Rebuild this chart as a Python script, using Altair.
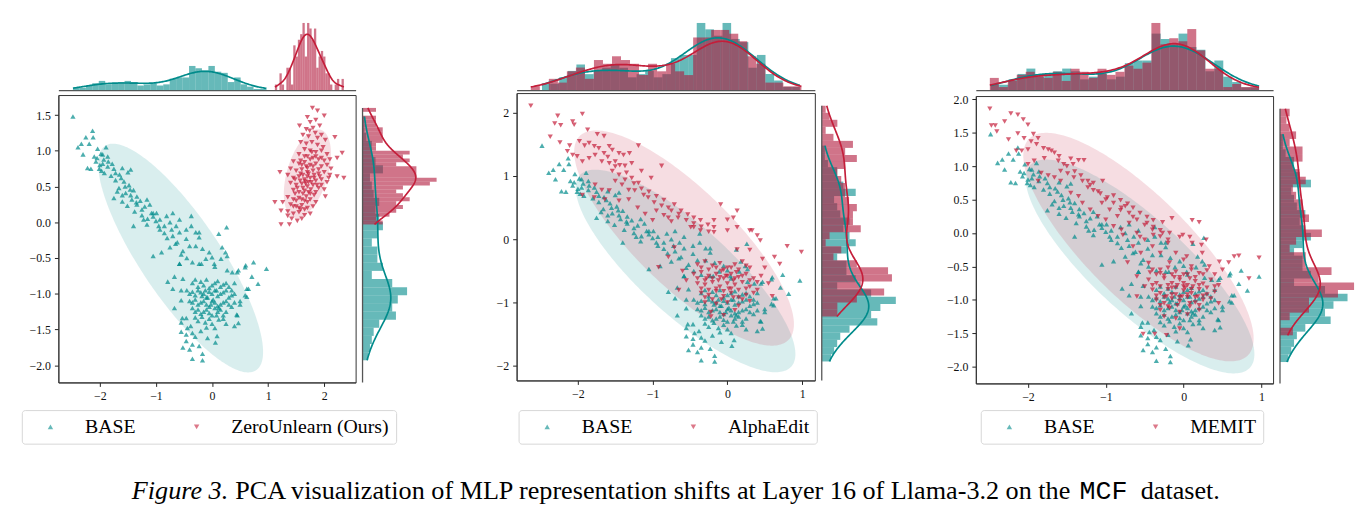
import numpy as np
import pandas as pd
import altair as alt

TEAL = "#008b8b"
RED = "#c41e3a"
HIST_RED = "#b0173a"
SPINE = "#555555"

# BASE representations (same in all three panels)
base_pts = [
    (-2.48, 1.48), (-2.13, 1.28), (-2.25, 1.19), (-2.12, 1.19), (-2.33, 1.10), (-2.39, 1.05), (-2.19, 1.10), (-2.30, 0.95),
    (-2.04, 1.03), (-1.98, 0.96), (-1.89, 1.05), (-1.86, 0.92), (-1.95, 0.82), (-2.07, 0.85), (-2.16, 0.75), (-2.01, 0.75),
    (-1.86, 0.78), (-1.78, 0.82), (-1.72, 0.69), (-1.92, 0.69), (-2.22, 0.76), (-2.05, 0.90), (-1.93, 0.88), (-1.97, 0.72),
    (-1.60, 0.76), (-1.50, 0.70), (-1.45, 0.74), (-1.65, 0.67),
    (-1.72, 0.59), (-1.57, 0.57), (-1.66, 0.48), (-1.54, 0.41), (-1.46, 0.46), (-1.34, 0.36), (-1.69, 0.43), (-1.60, 0.38),
    (-1.48, 0.52), (-1.40, 0.45),
    (-1.75, 0.34), (-1.60, 0.29), (-1.51, 0.23), (-1.43, 0.32), (-1.34, 0.25), (-1.25, 0.18), (-1.16, 0.32), (-1.11, 0.25),
    (-1.08, 0.13), (-1.28, 0.30), (-1.20, 0.22), (-1.38, 0.15),
    (-1.22, 0.04), (-0.99, 0.13), (-0.93, 0.04), (-0.81, 0.09), (-0.75, 0.00), (-0.64, -0.05), (-0.93, -0.10), (-1.40, -0.05),
    (-1.05, 0.13), (-0.70, 0.13), (-0.58, 0.04), (-0.37, 0.09), (-0.46, -0.10), (-0.23, -0.14), (0.26, -0.07), (0.12, -0.16),
    (-1.00, 0.02), (-0.85, -0.05),
    (-1.16, -0.03), (-0.72, -0.10), (-0.70, -0.19), (-0.58, -0.14), (-0.46, -0.23), (-0.37, -0.05), (-0.29, -0.14),
    (-0.23, -0.21), (-0.40, -0.33), (-0.29, -0.33), (-0.17, -0.37), (-0.05, -0.42), (-0.62, -0.28), (-0.52, -0.40), (-0.80, -0.22),
    (-1.05, -0.47), (-0.90, -0.42), (-0.58, -0.58), (-0.35, -0.56), (-0.23, -0.58), (-0.11, -0.51), (0.00, -0.49), (0.24, -0.42),
    (0.27, -0.47), (0.18, -0.35), (-0.45, -0.50), (0.05, -0.62),
    (0.59, -0.63), (0.74, -0.56), (0.97, -0.65), (0.71, -0.76), (0.82, -0.86), (0.62, -0.93), (0.59, -1.02), (0.45, -0.70),
    (0.40, -0.85), (0.50, -1.15), (0.45, -1.30), (0.40, -1.45),
    (-0.58, -0.58), (-0.19, -0.58), (0.04, -0.58), (0.16, -0.51), (0.27, -0.67), (0.36, -0.70), (0.47, -0.67), (0.60, -0.60),
    (0.65, -0.93), (0.62, -1.04), (0.50, -1.10), (0.44, -1.29), (0.47, -1.41),
    (-0.79, -0.83), (-0.67, -0.76), (-0.52, -0.79), (-0.70, -0.93), (-0.55, -0.95), (-0.67, -1.20), (-0.55, -1.09),
    (-0.46, -1.34), (-0.44, -1.48), (-0.53, -1.34),
    (-0.35, -0.85), (-0.25, -0.90), (-0.15, -0.88), (-0.05, -0.92), (0.05, -0.85), (0.15, -0.90), (0.25, -0.85), (0.35, -0.95),
    (-0.40, -1.00), (-0.30, -1.02), (-0.20, -0.98), (-0.10, -1.05), (0.00, -1.00), (0.10, -1.03), (0.20, -0.98), (0.30, -1.05),
    (0.40, -1.00), (-0.35, -1.12), (-0.25, -1.15), (-0.15, -1.10), (-0.05, -1.18), (0.05, -1.12), (0.15, -1.15), (0.25, -1.10),
    (0.35, -1.18), (-0.30, -1.25), (-0.20, -1.28), (-0.10, -1.22), (0.00, -1.30), (0.10, -1.25), (0.20, -1.30),
    (-0.25, -1.38), (-0.12, -1.40), (0.00, -1.42), (0.12, -1.36), (0.25, -1.42),
    (-0.08, -1.05), (0.02, -1.08), (-0.18, -1.03), (0.08, -0.95), (-0.02, -1.15), (0.12, -1.20), (-0.12, -0.95),
    (-0.52, -1.75), (-0.46, -1.66), (-0.40, -1.78), (-0.35, -1.71), (-0.23, -1.73), (-0.17, -1.84), (-0.35, -1.91),
    (-0.17, -1.93), (-0.08, -1.62), (0.06, -1.68), (0.09, -1.59), (-0.46, -1.57), (-0.55, -1.53), (-0.30, -1.60),
    (-0.20, -1.52), (-0.38, -1.45), (-0.55, -1.40),
    (-0.30, -0.80), (-0.20, -0.83), (-0.10, -0.80), (0.00, -0.88), (0.10, -0.82), (0.20, -0.87), (0.30, -0.90),
    (-0.45, -0.95), (-0.35, -0.97), (-0.25, -0.95), (-0.15, -1.00), (-0.05, -0.97), (0.05, -0.95), (0.15, -1.00),
    (0.25, -0.95), (0.35, -1.02), (-0.40, -1.10), (-0.30, -1.08), (-0.20, -1.12), (-0.10, -1.15), (0.00, -1.10),
    (0.10, -1.17), (0.20, -1.12), (0.30, -1.15), (0.40, -1.12), (-0.35, -1.20), (-0.25, -1.22), (-0.15, -1.25),
    (-0.05, -1.27), (0.05, -1.20), (0.15, -1.22), (0.25, -1.25), (-0.30, -1.33), (-0.18, -1.32), (-0.05, -1.35),
    (0.08, -1.30), (0.20, -1.35), (-0.10, -1.47), (0.05, -1.48), (-0.35, -1.55),
    (-1.95, 0.95), (-1.85, 0.85), (-1.75, 0.75), (-1.62, 0.62), (-1.55, 0.50), (-1.45, 0.38), (-1.35, 0.28),
    (-1.25, 0.10), (-1.15, 0.05), (-0.95, -0.05), (-0.85, -0.15), (-0.65, -0.30), (-0.55, -0.45), (-0.75, -0.35),
    (-1.05, 0.08), (-2.10, 0.92), (-2.00, 0.80), (-1.80, 0.65),
]

zero_pts = [
    (1.79, 1.60), (1.88, 1.56), (2.00, 1.49), (1.70, 1.47), (1.56, 1.35), (1.75, 1.40), (1.85, 1.43), (1.92, 1.35),
    (1.68, 1.30), (1.80, 1.32), (1.62, 1.22), (1.72, 1.20), (1.84, 1.25), (1.95, 1.22), (2.02, 1.15), (2.19, 1.19),
    (1.58, 1.12), (1.68, 1.10), (1.78, 1.12), (1.88, 1.08), (1.98, 1.05), (1.65, 1.02), (1.75, 1.00), (1.85, 0.98),
    (1.95, 1.00), (2.05, 0.95), (1.55, 0.95), (1.70, 0.92), (1.80, 0.90), (1.90, 0.88), (2.00, 0.86), (2.32, 0.97),
    (2.23, 0.90), (2.10, 0.88),
    (1.45, 0.85), (1.55, 0.82), (1.65, 0.84), (1.75, 0.80), (1.85, 0.82), (1.95, 0.78), (2.05, 0.80), (2.12, 0.75),
    (1.40, 0.75), (1.50, 0.72), (1.60, 0.74), (1.70, 0.70), (1.80, 0.72), (1.90, 0.68), (2.00, 0.70), (2.10, 0.66),
    (2.23, 0.64), (2.35, 0.62), (1.21, 0.70), (1.35, 0.66), (1.45, 0.62), (1.55, 0.64), (1.65, 0.60), (1.75, 0.62),
    (1.85, 0.58), (1.95, 0.60), (2.05, 0.56), (1.40, 0.55), (1.50, 0.52), (1.60, 0.54), (1.70, 0.50), (1.80, 0.52),
    (1.90, 0.48), (2.00, 0.46), (1.45, 0.45), (1.55, 0.42), (1.65, 0.44), (1.75, 0.40), (1.85, 0.42), (2.02, 0.36),
    (1.62, 0.48), (1.72, 0.56), (1.82, 0.66), (1.68, 0.78), (1.58, 0.68), (1.66, 0.57), (1.76, 0.46), (1.70, 0.64),
    (1.35, 0.35), (1.45, 0.32), (1.55, 0.34), (1.65, 0.30), (1.75, 0.32), (1.85, 0.28), (1.40, 0.25), (1.50, 0.22),
    (1.60, 0.24), (1.70, 0.20), (1.80, 0.22), (1.35, 0.15), (1.45, 0.12), (1.55, 0.14), (1.65, 0.10), (1.75, 0.12),
    (1.42, 0.05), (1.52, 0.02), (1.60, 0.05), (1.12, 0.28), (1.26, 0.28), (1.23, 0.16), (1.23, -0.03), (1.35, 0.09),
    (1.38, -0.03), (1.48, 0.40), (1.58, 0.18),
    (1.60, 0.80), (1.70, 0.76), (1.80, 0.78), (1.90, 0.74), (1.62, 0.66), (1.72, 0.68), (1.82, 0.62), (1.92, 0.64),
    (1.57, 0.58), (1.67, 0.54), (1.77, 0.56), (1.87, 0.52), (1.52, 0.48), (1.62, 0.40), (1.72, 0.42), (1.82, 0.38),
    (1.50, 0.30), (1.60, 0.32), (1.70, 0.28), (1.55, 0.20), (1.65, 0.18), (1.75, 0.88), (1.85, 0.92), (1.65, 0.92),
    (1.95, 0.90), (1.78, 0.98), (1.88, 1.18), (1.74, 1.28), (1.48, 0.60), (1.95, 0.52), (2.08, 0.62), (1.45, 0.22),
    (1.68, 0.36), (1.58, 0.86),
]

alpha_pts = [
    (-2.63, 2.11), (-2.27, 1.95), (-2.31, 1.83), (-2.23, 1.80), (-2.07, 1.86), (-2.05, 1.81), (-1.94, 1.98), (-1.87, 1.73),
    (-2.37, 1.62), (-1.74, 1.66), (-1.65, 1.63), (-2.24, 1.53), (-2.11, 1.48), (-1.98, 1.55),
    (-1.91, 1.48), (-1.85, 1.52), (-1.78, 1.47), (-1.72, 1.44), (-1.65, 1.36), (-1.54, 1.41), (-1.45, 1.36), (-1.39, 1.33),
    (-1.31, 1.36), (-1.19, 1.48), (-1.58, 1.47),
    (-2.14, 1.39), (-2.07, 1.33), (-2.01, 1.31), (-1.94, 1.23), (-1.85, 1.28), (-1.77, 1.33), (-1.68, 1.23), (-1.58, 1.20),
    (-1.50, 1.23), (-1.44, 1.17), (-1.37, 1.16), (-1.28, 1.20),
    (-0.88, 1.16), (-1.02, 0.97), (-1.15, 1.08),
    (-1.54, 1.08), (-1.45, 1.02), (-1.37, 0.94), (-1.28, 0.97), (-1.19, 0.89), (-1.50, 0.92), (-1.41, 0.86), (-1.32, 0.78),
    (-1.24, 0.77), (-1.12, 0.70),
    (-1.77, 0.86), (-1.68, 0.78), (-1.58, 0.77), (-1.94, 0.70), (-1.78, 0.66), (-1.64, 0.63), (-1.45, 0.61), (-1.32, 0.63),
    (-1.06, 0.66), (-0.98, 0.58), (-0.88, 0.53), (-0.79, 0.50), (-0.71, 0.55), (-0.62, 0.45), (-0.53, 0.39), (-0.45, 0.34),
    (-0.36, 0.30), (-0.26, 0.23), (-0.18, 0.19), (-0.09, 0.55), (0.13, 0.45), (0.00, 0.31), (-0.49, 0.19), (-0.36, 0.14),
    (-0.18, 0.11), (0.00, 0.14), (0.13, 0.19), (0.30, 0.14), (0.40, 0.06), (-0.66, 0.34), (-0.79, 0.34),
    (-1.20, 0.50), (-1.10, 0.40), (-0.95, 0.45), (-0.85, 0.38), (-1.00, 0.30), (-0.75, 0.28),
    (0.33, 0.14), (0.44, -0.02), (0.13, -0.16), (0.30, -0.17), (0.80, -0.11), (0.99, -0.20), (0.63, -0.28), (0.70, -0.39),
    (0.47, -0.31), (-0.79, -0.28), (-0.92, -0.44), (-0.71, -0.13), (-0.45, 0.19), (-0.18, 0.30), (0.08, 0.34),
    (-0.40, -0.40), (-0.30, -0.35), (-0.20, -0.42), (-0.10, -0.38), (0.00, -0.45), (0.10, -0.40), (0.20, -0.35), (0.30, -0.45),
    (-0.45, -0.55), (-0.35, -0.52), (-0.25, -0.58), (-0.15, -0.55), (-0.05, -0.62), (0.05, -0.55), (0.15, -0.60), (0.25, -0.55),
    (0.35, -0.62), (0.45, -0.58),
    (-0.40, -0.70), (-0.30, -0.72), (-0.20, -0.68), (-0.10, -0.75), (0.00, -0.70), (0.10, -0.72), (0.20, -0.68), (0.30, -0.75),
    (0.40, -0.80),
    (-0.35, -0.85), (-0.25, -0.88), (-0.15, -0.82), (-0.05, -0.90), (0.05, -0.85), (0.15, -0.92), (0.25, -0.88),
    (-0.30, -1.00), (-0.15, -1.02), (0.00, -1.00), (0.15, -1.05), (0.30, -0.98), (-0.22, -1.15), (-0.05, -1.20), (0.10, -1.12),
    (-0.60, -0.50), (-0.55, -0.65), (-0.65, -0.80), (0.50, -0.45), (0.55, -0.70), (0.60, -0.90), (-0.08, -0.50), (0.08, -0.65),
    (-0.12, -0.65), (0.02, -0.78), (-0.22, -1.22), (-0.02, -0.58), (0.12, -0.52), (-0.28, -0.62),
    (-0.35, -0.45), (-0.25, -0.48), (-0.15, -0.45), (-0.05, -0.48), (0.05, -0.45), (0.15, -0.48), (0.25, -0.42),
    (-0.40, -0.62), (-0.30, -0.65), (-0.20, -0.62), (-0.10, -0.60), (0.00, -0.58), (0.10, -0.62), (0.20, -0.58),
    (0.30, -0.65), (0.40, -0.68), (-0.35, -0.78), (-0.25, -0.80), (-0.15, -0.78), (-0.05, -0.82), (0.05, -0.78),
    (0.15, -0.80), (0.25, -0.78), (0.35, -0.85), (-0.30, -0.92), (-0.20, -0.95), (-0.08, -0.95), (0.08, -0.92),
    (0.20, -0.95),
    (-1.60, 1.30), (-1.50, 1.15), (-1.35, 1.05), (-1.25, 0.88), (-1.15, 0.80), (-1.05, 0.75), (-0.95, 0.68),
    (-0.85, 0.62), (-0.75, 0.45), (-0.65, 0.40), (-0.55, 0.30), (-0.45, 0.25), (-0.35, 0.20), (-0.25, 0.12),
]

memit_pts = [
    (-2.49, 1.86), (-2.47, 1.61), (-2.42, 1.61), (-2.30, 1.67), (-2.40, 1.52), (-2.22, 1.79), (-2.13, 1.77), (-2.06, 1.70),
    (-2.00, 1.62), (-2.13, 1.49), (-2.25, 1.40), (-1.93, 1.48), (-1.87, 1.42), (-2.05, 1.42), (-1.96, 1.37), (-1.89, 1.33),
    (-1.80, 1.27), (-1.74, 1.25), (-2.08, 1.23), (-2.15, 1.23), (-2.00, 1.25),
    (-1.70, 1.23), (-1.66, 1.20), (-1.45, 1.11), (-1.35, 1.09), (-1.28, 1.09), (-1.42, 1.03), (-1.54, 1.03), (-1.61, 1.08),
    (-1.79, 1.12), (-1.92, 1.08), (-2.00, 1.03),
    (-1.58, 0.93), (-1.49, 0.89), (-1.41, 0.83), (-1.32, 0.86), (-1.23, 0.78), (-1.16, 0.75), (-1.04, 0.78), (-1.58, 0.78),
    (-1.66, 0.83), (-1.74, 0.86), (-1.87, 0.78), (-1.83, 0.90),
    (-1.23, 0.68), (-1.16, 0.64), (-1.07, 0.59), (-0.98, 0.53), (-0.90, 0.56), (-0.81, 0.49), (-0.72, 0.44), (-0.65, 0.38),
    (-0.56, 0.30), (-0.47, 0.24), (-0.39, 0.19), (-0.27, 0.16), (-0.15, 0.22), (0.11, 0.19), (0.20, 0.16), (-0.81, 0.34),
    (-0.65, 0.24), (-0.47, 0.15), (-0.39, 0.09), (-0.30, 0.04), (-0.18, 0.00), (-0.05, -0.06), (0.08, -0.06),
    (-1.30, 0.45), (-1.20, 0.35), (-1.10, 0.25), (-1.00, 0.20), (-0.90, 0.10), (-0.80, 0.05), (-1.05, 0.45), (-0.95, 0.35),
    (-0.85, 0.25), (-0.70, 0.15), (-0.60, 0.00), (-0.50, -0.10), (-0.40, -0.20), (-0.30, -0.30), (-0.65, -0.20),
    (-0.20, -0.15), (-0.10, -0.30), (0.00, -0.40), (0.10, -0.50), (-0.45, -0.45), (-0.55, -0.30), (-1.45, 0.60),
    (-1.35, 0.55), (-0.75, 0.40),
    (-0.78, -0.03), (-0.56, -0.06), (-0.39, -0.03), (-0.27, 0.00), (-0.01, -0.03), (0.11, -0.15), (0.23, -0.18), (0.29, -0.10),
    (0.24, -0.30), (0.46, -0.43), (0.58, -0.44), (0.65, -0.35), (0.71, -0.34), (0.97, -0.37), (0.84, -0.68), (0.33, -0.50),
    (0.04, -0.35), (-0.18, -0.44), (-0.30, -0.55), (-0.43, -0.59), (-0.60, -0.65), (-0.72, -0.44),
    (-0.40, -0.55), (-0.30, -0.60), (-0.20, -0.52), (-0.10, -0.58), (0.00, -0.62), (0.10, -0.55), (0.20, -0.60), (0.30, -0.56),
    (0.40, -0.62),
    (-0.45, -0.70), (-0.35, -0.75), (-0.25, -0.68), (-0.15, -0.75), (-0.05, -0.70), (0.05, -0.78), (0.15, -0.72), (0.25, -0.76),
    (0.35, -0.70), (0.45, -0.78),
    (-0.40, -0.85), (-0.30, -0.90), (-0.20, -0.84), (-0.10, -0.92), (0.00, -0.86), (0.10, -0.90), (0.20, -0.84), (0.30, -0.92),
    (0.40, -0.88),
    (-0.35, -1.00), (-0.25, -1.05), (-0.15, -0.98), (-0.05, -1.02), (0.05, -0.96), (0.15, -1.04), (0.25, -1.00),
    (-0.30, -1.15), (-0.18, -1.12), (-0.05, -1.18), (0.08, -1.10), (0.20, -1.15), (-0.25, -1.25), (-0.10, -1.28), (0.05, -1.22),
    (-0.08, -0.78), (0.02, -0.82), (-0.12, -0.66), (0.12, -0.80), (-0.02, -0.95), (0.08, -0.68), (0.50, -0.55), (-0.50, -0.80),
    (-0.60, -0.95), (0.45, -1.05), (-0.15, -0.82), (0.18, -0.95), (-0.22, -0.95), (0.00, -0.75),
    (-0.52, -1.51), (-0.37, -1.51), (-0.22, -1.53), (-0.05, -1.43),
    (-0.35, -0.62), (-0.25, -0.64), (-0.15, -0.62), (-0.05, -0.66), (0.05, -0.62), (0.15, -0.66), (0.25, -0.62),
    (-0.40, -0.78), (-0.30, -0.80), (-0.20, -0.78), (-0.10, -0.82), (0.00, -0.80), (0.10, -0.84), (0.20, -0.78),
    (0.30, -0.82), (0.40, -0.80), (-0.35, -0.94), (-0.25, -0.96), (-0.15, -0.92), (-0.05, -0.96), (0.05, -0.92),
    (0.15, -0.96), (0.25, -0.94), (0.35, -0.98), (-0.30, -1.08), (-0.20, -1.10), (-0.08, -1.08), (0.08, -1.05),
    (0.20, -1.08),
    (-1.60, 1.15), (-1.50, 1.00), (-1.40, 0.92), (-1.30, 0.78), (-1.20, 0.72), (-1.10, 0.62), (-1.00, 0.50),
    (-0.90, 0.45), (-0.80, 0.38), (-0.70, 0.30), (-0.60, 0.20), (-0.50, 0.12), (-0.40, 0.05), (-0.30, -0.05),
    (-0.20, -0.10),
]

# confidence ellipses: centre x, centre y, half extent x, half extent y, correlation
base_ell = (-0.56, -0.50, 1.47, 1.60, -0.82)
zero_ell = (1.70, 0.68, 0.42, 0.62, 0.45)
alpha_ell = (-0.58, 0.02, 1.47, 1.70, -0.80)
memit_ell = (-0.58, -0.21, 1.48, 1.71, -0.80)

p1_xdom, p1_ydom = [-2.74, 2.56], [-2.24, 1.78]
p2_xdom, p2_ydom = [-2.82, 1.17], [-2.23, 2.31]
p3_xdom, p3_ydom = [-2.67, 1.15], [-2.25, 2.05]

p1_xticks, p1_yticks = [-2, -1, 0, 1, 2], [-2.0, -1.5, -1.0, -0.5, 0.0, 0.5, 1.0, 1.5]
p2_xticks, p2_yticks = [-2, -1, 0, 1], [-2, -1, 0, 1, 2]
p3_xticks, p3_yticks = [-2, -1, 0, 1], [-2.0, -1.5, -1.0, -0.5, 0.0, 0.5, 1.0, 1.5, 2.0]

caption_parts = ["Figure 3.", "PCA visualization of MLP representation shifts at Layer 16 of Llama-3.2 on the",
                 "MCF", "dataset."]

SERIF = "Liberation Serif"
MAIN_H = 291
NBINS = 30


def pts_df(pts, name):
    df = pd.DataFrame(pts, columns=["x", "y"])
    df["series"] = name
    return df


def ellipse_df(params):
    mx, my, a, b, r = params
    u = -np.cos(np.linspace(0, np.pi, 121))
    half = np.sqrt((1 - r * r) * (1 - u * u))
    return pd.DataFrame({"x": mx + a * u,
                         "ylo": my + b * (r * u - half),
                         "yhi": my + b * (r * u + half)})


def hist_df(values):
    dens, edges = np.histogram(values, bins=NBINS, density=True)
    return pd.DataFrame({"b0": edges[:-1], "b1": edges[1:], "dens": dens})


def main_plot(base, red, name, ell_r, xdom, ydom, xticks, yticks, yfmt, w, legx):
    xs = alt.Scale(domain=xdom, nice=False, zero=False)
    ys = alt.Scale(domain=ydom, nice=False, zero=False)
    xax = alt.Axis(values=xticks, format="d")
    yax = alt.Axis(values=yticks, format=yfmt)
    layers = []
    for e, col in ((base_ell, TEAL), (ell_r, RED)):
        layers.append(
            alt.Chart(ellipse_df(e)).mark_area(color=col, opacity=0.15).encode(
                x=alt.X("x:Q", scale=xs, axis=xax, title=None),
                y=alt.Y("yhi:Q", scale=ys, axis=yax, title=None),
                y2="ylo")
        )
    leg = alt.Legend(orient="none", legendX=legx, legendY=392, direction="horizontal",
                     labelFont=SERIF, labelFontSize=20, labelColor="black",
                     symbolSize=30, symbolOpacity=0.6, symbolStrokeWidth=0,
                     symbolOffset=12, labelOffset=25, columnPadding=39, padding=7,
                     strokeColor="#d6d6d6", fillColor="white", cornerRadius=3)
    dom = ["BASE", name]
    layers.append(
        alt.Chart(pd.concat([base, red])).mark_point(filled=True, size=28, opacity=0.7, strokeWidth=0).encode(
            x=alt.X("x:Q", scale=xs, axis=xax, title=None),
            y=alt.Y("y:Q", scale=ys, axis=yax, title=None),
            color=alt.Color("series:N", scale=alt.Scale(domain=dom, range=[TEAL, RED]), legend=leg, title=None),
            shape=alt.Shape("series:N", scale=alt.Scale(domain=dom, range=["triangle-up", "triangle-down"]),
                            legend=leg, title=None))
    )
    return alt.layer(*layers).properties(width=w, height=MAIN_H,
                                         view=alt.ViewBackground(stroke="#333333", strokeWidth=1))


def kde(df, field, col):
    return (alt.Chart(df)
            .transform_density(field, as_=["v", "dens"])
            .mark_line(color=col, strokeWidth=1.7))


def top_marg(base, red, xdom, w, ylab):
    xs = alt.Scale(domain=xdom, nice=False, zero=False)
    ds = alt.Scale(zero=True, nice=False)
    xax = alt.Axis(labels=False, ticks=False, grid=False, domainColor=SPINE, domainWidth=1.3)
    # invisible axis, only there so this strip lines up with the scatter's y axis
    yax = alt.Axis(values=[0], labelExpr=f"'{ylab}'", labelOpacity=0, tickOpacity=0, domain=False,
                   grid=False, labelBaseline="bottom")
    layers = []
    for df, col in ((base, TEAL), (red, HIST_RED)):
        layers.append(alt.Chart(hist_df(df["x"])).mark_rect(color=col, opacity=0.6).encode(
            x=alt.X("b0:Q", scale=xs, axis=xax, title=None), x2="b1",
            y=alt.Y("dens:Q", scale=ds, axis=yax, title=None), y2=alt.datum(0)))
    for df, col in ((base, TEAL), (red, RED)):
        layers.append(kde(df, "x", col).encode(
            x=alt.X("v:Q", scale=xs, axis=xax, title=None),
            y=alt.Y("dens:Q", scale=ds, axis=yax, title=None)))
    return alt.layer(*layers).properties(width=w, height=68)


def right_marg(base, red, ydom):
    ys = alt.Scale(domain=ydom, nice=False, zero=False)
    ds = alt.Scale(zero=True, nice=False)
    layers = []
    for df, col in ((base, TEAL), (red, HIST_RED)):
        layers.append(alt.Chart(hist_df(df["y"])).mark_rect(color=col, opacity=0.6).encode(
            y=alt.Y("b0:Q", scale=ys, axis=None), y2="b1",
            x=alt.X("dens:Q", scale=ds, axis=None), x2=alt.datum(0)))
    for df, col in ((base, TEAL), (red, RED)):
        layers.append(kde(df, "y", col).encode(
            y=alt.Y("v:Q", scale=ys, axis=None),
            x=alt.X("dens:Q", scale=ds, axis=None),
            order="v:Q"))
    spine = pd.DataFrame({"top": [max(base["y"].max(), red["y"].max())], "bot": [ydom[0]]})
    layers.append(alt.Chart(spine).mark_rule(color=SPINE, strokeWidth=1.3).encode(
        x=alt.value(0), y=alt.Y("top:Q", scale=ys, axis=None), y2="bot"))
    return alt.layer(*layers).properties(width=75, height=MAIN_H)


def panel(red_pts, name, ell_r, xdom, ydom, xticks, yticks, yfmt, ylab, w, legx):
    base = pts_df(base_pts, "BASE")
    red = pts_df(red_pts, name)
    top = top_marg(base, red, xdom, w, ylab)
    main = main_plot(base, red, name, ell_r, xdom, ydom, xticks, yticks, yfmt, w, legx)
    side = right_marg(base, red, ydom)
    return alt.vconcat(top, alt.hconcat(main, side, spacing=4), spacing=1)


p1 = panel(zero_pts, "ZeroUnlearn (Ours)", zero_ell, p1_xdom, p1_ydom, p1_xticks, p1_yticks, ".1f",
           "\u22122.0", 301, -37)
p2 = panel(alpha_pts, "AlphaEdit", alpha_ell, p2_xdom, p2_ydom, p2_xticks, p2_yticks, "d",
           "\u22122", 302, 2)
p3 = panel(memit_pts, "MEMIT", memit_ell, p3_xdom, p3_ydom, p3_xticks, p3_yticks, ".1f",
           "\u22122.0", 301, 5)

row = alt.hconcat(
    alt.hconcat(p1, p2, spacing=58).resolve_scale(color="independent", shape="independent"),
    p3, spacing=49,
).resolve_scale(color="independent", shape="independent")

# caption pieces, positioned from the caption row's left edge
cap_styles = [
    dict(font=SERIF, fontStyle="italic", align="right", x=172, size=26.5),
    dict(font=SERIF, fontStyle="normal", align="left", x=179, size=26.5),
    dict(font="Liberation Mono", fontStyle="normal", align="left", x=1034, size=27),
    dict(font=SERIF, fontStyle="normal", align="left", x=1096, size=26.5),
]
cap_layers = []
for txt, st in zip(caption_parts, cap_styles):
    cap_layers.append(
        alt.Chart(pd.DataFrame({"t": [txt]})).mark_text(
            font=st["font"], fontStyle=st["fontStyle"], fontSize=st["size"], align=st["align"],
            baseline="alphabetic", color="black").encode(
            x=alt.value(st["x"]), y=alt.value(44), text="t:N")
    )
caption = alt.layer(*cap_layers).properties(width=1250, height=48)

chart = alt.vconcat(row, caption, spacing=10).properties(
    padding={"left": 13, "top": 11, "right": 4, "bottom": 0}
).configure(font=SERIF).configure_view(stroke="transparent").configure_axis(
    labelFont=SERIF, labelFontSize=12, labelColor="#111111", tickColor="#222222",
    domainColor="#333333", tickSize=4, labelPadding=4, grid=False
)

chart.save("out.html", embed_options={"renderer": "svg", "actions": False})
